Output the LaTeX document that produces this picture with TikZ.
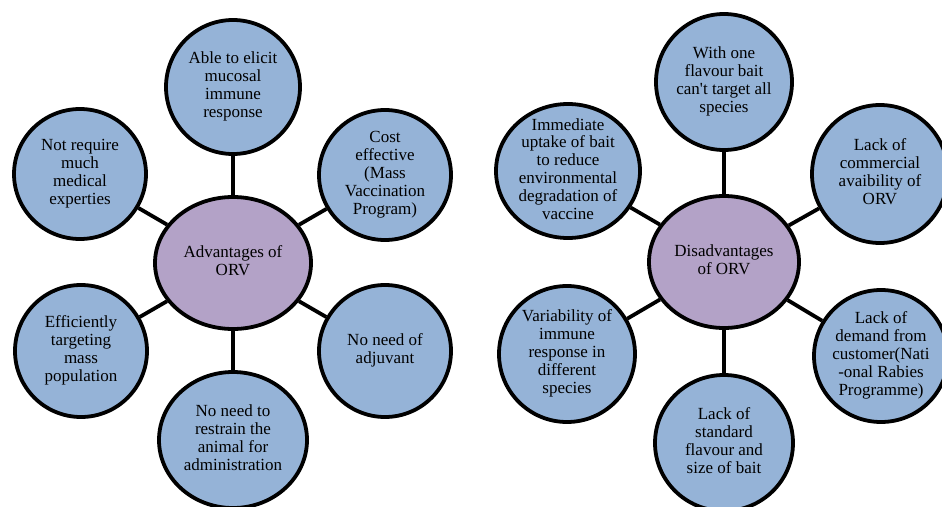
\documentclass[tikz,border=0pt]{standalone}
\usepackage{fontspec}
\setmainfont{Liberation Serif}
\newfontfamily\fa{Liberation Serif}
\usetikzlibrary{shapes.geometric}
\definecolor{bubblue}{HTML}{95B3D7}
\definecolor{hubpurple}{HTML}{B3A2C7}
\tikzset{
  bub/.style={ellipse, draw=black, line width=3.8pt, fill=bubblue, inner sep=0pt},
  hub/.style={ellipse, draw=black, line width=3.8pt, fill=hubpurple, inner sep=0pt},
  txt/.style={inner sep=0pt},
  conn/.style={draw=black, line width=3.8pt},
}
\newcommand{\lines}[1]{{\fa\fontsize{17pt}{17.8pt}\selectfont\renewcommand{\arraystretch}{1}\setlength{\tabcolsep}{0pt}\begin{tabular}{c}#1\end{tabular}}}
\newcommand{\bubble}[6]{% name, x, y, w, h, text
  \node[bub, minimum width=#4pt, minimum height=#5pt] (#1) at (#2,#3) {};
  \node[txt] (#1t) at (#2,#3) {\lines{#6}};
}
\newcommand{\hubble}[6]{%
  \node[hub, minimum width=#4pt, minimum height=#5pt] (#1) at (#2,#3) {};
  \node[txt] (#1t) at (#2,#3) {\lines{#6}};
}
\begin{document}
\begin{tikzpicture}[x=1pt,y=-1pt]
\useasboundingbox (0,0) rectangle (942,506);
% left group
\hubble{ac}{233}{263}{156}{132}{Advantages of\\ORV}
\bubble{at}{233}{87}{134}{134}{Able to elicit\\mucosal\\immune\\response}
\bubble{aul}{80}{174}{132}{130}{Not require\\much\\medical\\experties}
\bubble{aur}{385}{175}{132}{130}{Cost\\effective\\(Mass\\Vaccination\\Program)}
\bubble{all}{81}{351}{132}{132}{Efficiently\\targeting\\mass\\population}
\bubble{alr}{385}{351}{132}{132}{No need of\\adjuvant}
\bubble{ab}{233}{440}{148}{136}{No need to\\restrain the\\animal for\\administration}
\foreach \n in {at,aul,aur,all,alr,ab} \draw[conn] (ac) -- (\n);
% right group
\hubble{dc}{724}{262}{150}{132}{Disadvantages\\of ORV}
\bubble{dt}{724}{82}{136}{136}{With one\\flavour bait\\can't target all\\species}
\bubble{dul}{568}{171}{144}{134}{Immediate\\uptake of bait\\to reduce\\environmental\\degradation of\\vaccine}
\bubble{dur}{880}{174}{136}{138}{Lack of\\commercial\\avaibility of\\ORV}
\bubble{dll}{567}{354}{136}{136}{Variability of\\immune\\response in\\different\\species}
\bubble{dlr}{881}{356}{134}{132}{Lack of\\demand from\\customer(Nati\\-onal Rabies\\Programme)}
\bubble{db}{724}{443}{138}{136}{Lack of\\standard\\flavour and\\size of bait}
\foreach \n in {dt,dul,dur,dll,dlr,db} \draw[conn] (dc) -- (\n);
\end{tikzpicture}
\end{document}
